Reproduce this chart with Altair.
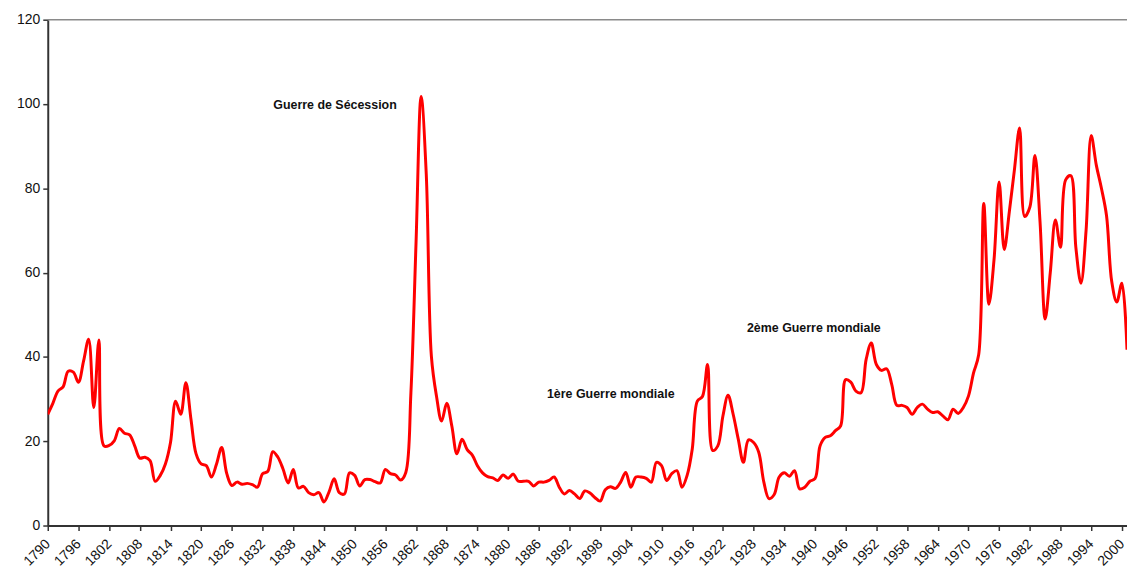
import altair as alt
import pandas as pd

FIRST_YEAR = 1790
LAST_YEAR = 2001

values = [
    # 1790-1799
    26.4, 29.0, 31.9, 32.9, 36.6, 36.4, 34.0, 39.0, 44.2, 28.0,
    # 1800-1809
    44.0, 18.9, 19.0, 20.1, 23.0, 21.9, 21.5, 18.9, 16.0, 16.2,
    # 1810-1819
    15.4, 10.5, 11.9, 14.6, 19.7, 29.5, 26.4, 33.9, 25.2, 17.0,
    # 1820-1829
    14.6, 14.2, 11.5, 14.6, 18.5, 12.3, 9.5, 10.3, 9.8, 10.0,
    # 1830-1839
    9.7, 9.1, 12.3, 12.8, 17.5, 16.2, 13.4, 10.1, 13.3, 8.9,
    # 1840-1849
    9.3, 7.8, 7.3, 7.8, 5.6, 8.0, 11.1, 7.8, 7.5, 12.5,
    # 1850-1859
    11.9, 9.4, 10.9, 10.9, 10.4, 10.1, 13.3, 12.3, 12.0, 10.8,
    # 1860-1869
    12.6, 31.5, 67.0, 101.8, 83.4, 40.2, 30.7, 24.8, 29.0, 23.6,
    # 1870-1879
    17.0, 20.5, 18.0, 16.7, 14.2, 12.5, 11.6, 11.3, 10.7, 12.0,
    # 1880-1889
    11.2, 12.2, 10.5, 10.5, 10.5, 9.4, 10.3, 10.3, 10.7, 11.5,
    # 1890-1899
    9.1, 7.5, 8.3, 7.5, 6.4, 8.2, 7.7, 6.6, 5.8, 8.5,
    # 1900-1909
    9.2, 8.8, 10.3, 12.6, 9.1, 11.5, 11.5, 11.2, 10.3, 15.0,
    # 1910-1919
    14.2, 10.7, 12.3, 13.0, 9.1, 11.9, 18.1, 29.5, 30.6, 38.2,
    # 1920-1929
    17.8, 18.9, 26.0, 30.9, 26.4, 20.5, 15.0, 20.3, 19.7, 17.4,
    # 1930-1939
    10.3, 6.4, 7.3, 11.5, 12.5, 11.7, 13.0, 8.7, 9.1, 10.5,
    # 1940-1949
    11.1, 18.9, 20.9, 21.3, 22.5, 23.6, 34.6, 34.0, 31.9, 31.5,
    # 1950-1959
    39.4, 43.3, 38.2, 36.8, 37.2, 33.5, 28.5, 28.5, 28.0, 26.4,
    # 1960-1969
    28.0, 28.8, 27.6, 26.8, 27.0, 26.0, 25.1, 27.6, 26.6, 28.0,
    # 1970-1979
    30.7, 36.2, 40.5, 76.4, 52.5, 63.0, 81.5, 65.5, 74.5, 84.5,
    # 1980-1989
    94.3, 73.3, 75.5, 87.8, 72.0, 49.0, 60.0, 72.5, 66.0, 82.0,
    # 1990-1999
    83.0, 66.0, 57.5, 70.0, 92.5, 85.5, 80.0, 73.5, 58.0, 53.0,
    # 2000-2001
    57.5, 41.7,
]

years = list(range(FIRST_YEAR, LAST_YEAR + 1))
tick_years = list(range(1790, 2001, 6))
y_ticks = [0, 20, 40, 60, 80, 100, 120]

ann_texts = ["Guerre de Sécession", "1ère Guerre mondiale", "2ème Guerre mondiale"]
ann_years = [1834.1, 1887.6, 1926.7]
ann_values = [99.7, 31.1, 46.9]

df = pd.DataFrame({"year": years, "value": values})
ann = pd.DataFrame({"year": ann_years, "value": ann_values, "text": ann_texts})

FONT = "Liberation Sans"

x_scale = alt.Scale(domain=[FIRST_YEAR, LAST_YEAR], nice=False, zero=False)
y_scale = alt.Scale(domain=[0, 120], nice=False)

line = alt.Chart(df).mark_line(
    color="#FF0000", strokeWidth=3, interpolate="catmull-rom", clip=True
).encode(
    x=alt.X(
        "year:Q",
        scale=x_scale,
        axis=alt.Axis(
            values=tick_years,
            format="d",
            labelAngle=-45,
            labelAlign="right",
            labelBaseline="middle",
            labelPadding=11,
            labelFontSize=14,
            labelOverlap=False,
            labelFlush=False,
            labelBound=False,
            title=None,
        ),
    ),
    y=alt.Y(
        "value:Q",
        scale=y_scale,
        axis=alt.Axis(
            values=y_ticks,
            labelFontSize=14,
            labelPadding=3,
            labelOverlap=False,
            title=None,
        ),
    ),
)

top_border = alt.Chart(pd.DataFrame({"v": [120]})).mark_rule(
    color="#8a8a8a", strokeWidth=1.5
).encode(y=alt.Y("v:Q", scale=y_scale, axis=None))

labels = alt.Chart(ann).mark_text(
    align="left", baseline="middle", fontSize=12.5, fontWeight="bold", font=FONT, color="#111111"
).encode(
    x=alt.X("year:Q", scale=x_scale, axis=None),
    y=alt.Y("value:Q", scale=y_scale, axis=None),
    text="text:N",
)

chart = alt.layer(line, top_border, labels).resolve_axis(
    x="independent", y="independent"
).properties(
    width=1086,
    height=509,
    autosize=alt.AutoSizeParams(type="none"),
    padding={"left": 40, "top": 10, "right": 0, "bottom": 46},
).configure_view(
    stroke=None
).configure_axis(
    labelFont=FONT,
    labelColor="#111111",
    tickSize=5,
    tickColor="#333333",
    tickWidth=1.5,
    domainColor="#333333",
    domainWidth=2,
    grid=False,
)

chart.save("out.html", embed_options={"renderer": "svg", "actions": False})
